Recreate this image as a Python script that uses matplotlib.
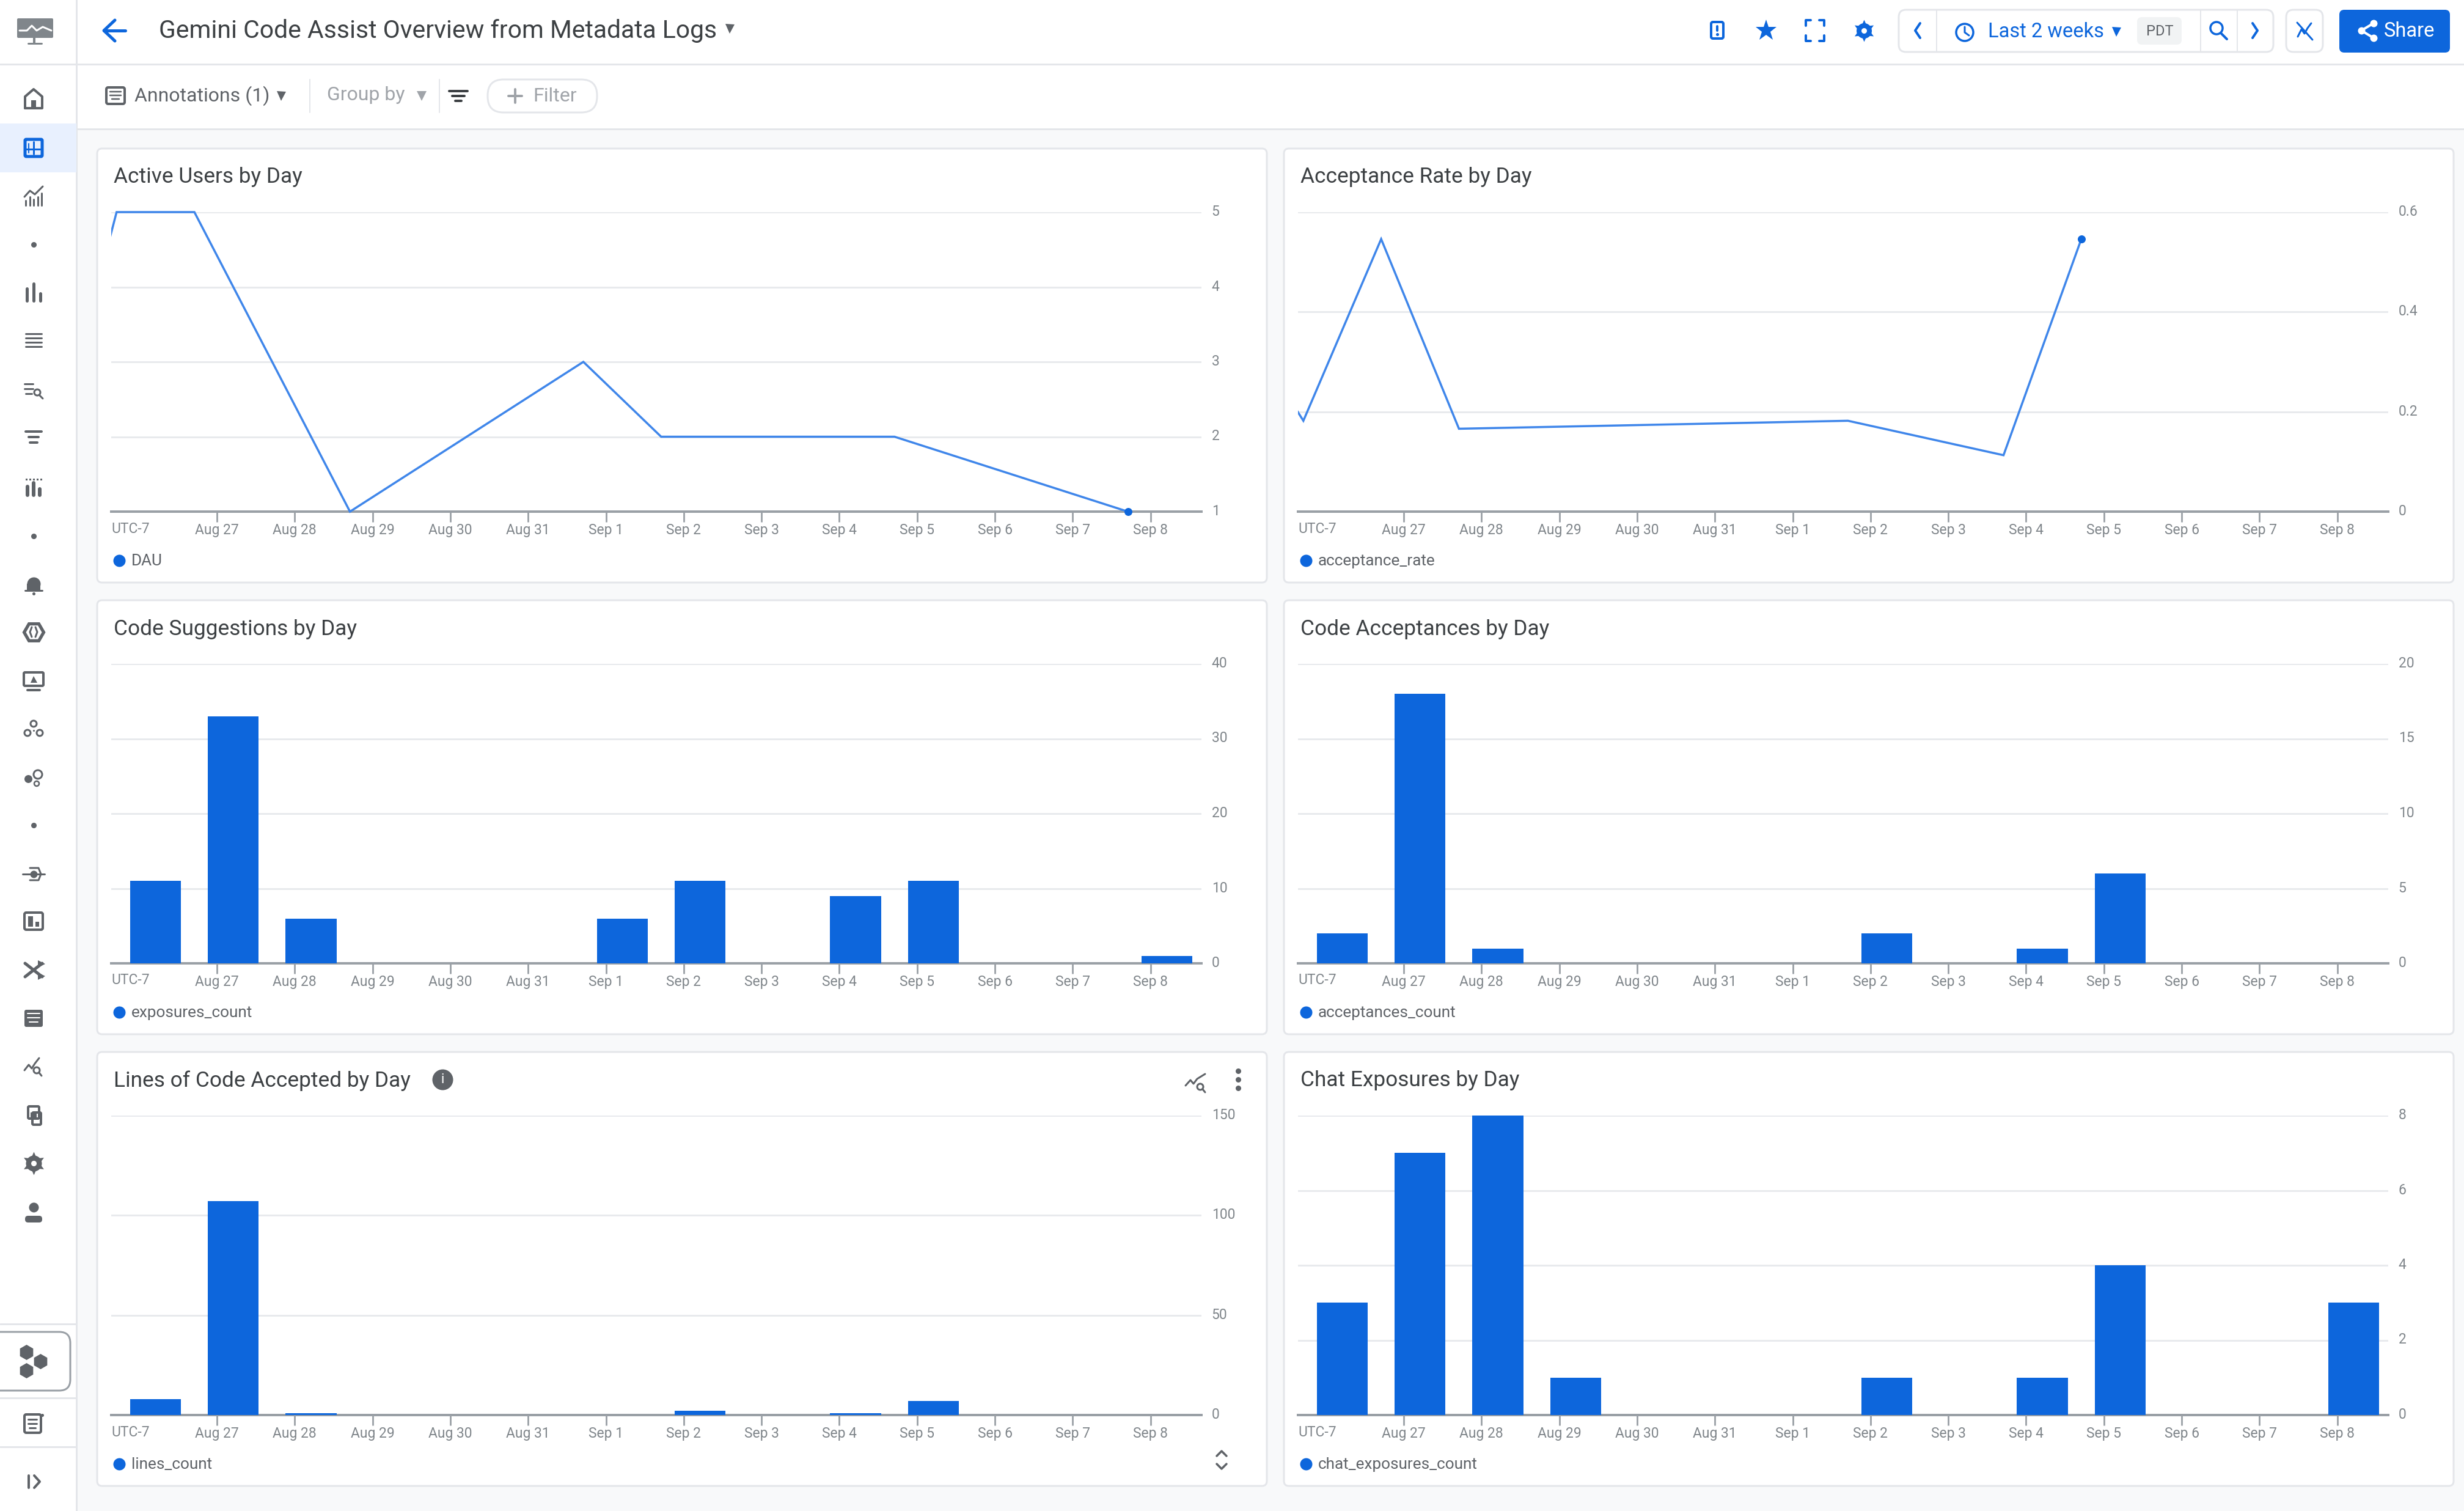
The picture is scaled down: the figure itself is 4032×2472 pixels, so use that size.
#!/usr/bin/env python3
"""Gemini Code Assist dashboard: six daily panels inside the console chrome."""

import matplotlib
matplotlib.use('Agg')
import matplotlib.pyplot as plt
from matplotlib.patches import Circle, FancyBboxPatch, Rectangle
from matplotlib.transforms import ScaledTranslation

plt.rcParams['font.family'] = ['Roboto', 'DejaVu Sans']

# day offsets from Aug 27, tick labels
tick_days = list(range(13))
tick_labels = ['Aug 27', 'Aug 28', 'Aug 29', 'Aug 30', 'Aug 31', 'Sep 1', 'Sep 2',
               'Sep 3', 'Sep 4', 'Sep 5', 'Sep 6', 'Sep 7', 'Sep 8']

# line panels
dau_days = [-2.29, -1.29, -0.29, 1.71, 4.71, 5.71, 8.71, 11.71]
dau_values = [1, 5, 5, 1, 3, 2, 2, 1]
rate_days = [-2.29, -1.29, -0.29, 0.71, 5.71, 7.71, 8.71]
rate_values = [0.43, 0.182, 0.546, 0.166, 0.182, 0.113, 0.546]

# bar panels
exposure_days = [-0.79, 0.21, 1.21, 5.21, 6.21, 8.21, 9.21, 12.21]
exposure_values = [11, 33, 6, 6, 11, 9, 11, 1]
accept_days = [-0.79, 0.21, 1.21, 6.21, 8.21, 9.21]
accept_values = [2, 18, 1, 2, 1, 6]
lines_days = [-0.79, 0.21, 1.21, 6.21, 8.21, 9.21]
lines_values = [8, 107, 1, 2, 1, 7]
chat_days = [-0.79, 0.21, 1.21, 2.21, 6.21, 8.21, 9.21, 12.21]
chat_values = [3, 7, 8, 1, 1, 1, 4, 3]

W, H = 4032, 2472
BLUE = '#0d66dc'
LINE_BLUE = '#3f86ea'
GREY = '#5f6368'
GRID = '#e8eaed'
BORDER = '#e4e6ea'
AXIS = '#9aa0a6'
TICK_TEXT = '#80868b'
TITLE_TEXT = '#3c4043'
PX = 0.72  # points per pixel at dpi=100

fig = plt.figure(figsize=(W / 100, H / 100), dpi=100, facecolor='#f8f9fa')

# overlay in pixel coordinates for the console chrome
ui = fig.add_axes([0, 0, 1, 1], zorder=0)
ui.set_xlim(0, W)
ui.set_ylim(H, 0)
ui.axis('off')


def rect(x0, y0, x1, y1, fc='white', ec='none', lw=0, z=1):
    ui.add_patch(Rectangle((x0, y0), x1 - x0, y1 - y0, fc=fc, ec=ec, lw=lw * PX, zorder=z))


def rrect(x0, y0, x1, y1, r=8, fc='white', ec='none', lw=0, z=2):
    ui.add_patch(FancyBboxPatch((x0 + r, y0 + r), x1 - x0 - 2 * r, y1 - y0 - 2 * r,
                                boxstyle=f'round,pad={r},rounding_size={r}',
                                fc=fc, ec=ec, lw=lw * PX, zorder=z))


def stroke(xs, ys, color=GREY, lw=4, z=3):
    ui.plot(xs, ys, color=color, lw=lw * PX, solid_capstyle='round',
            solid_joinstyle='round', zorder=z)


def mark(x, y, marker, size, color=GREY, z=3, **kw):
    ui.plot([x], [y], marker=marker, ms=size * PX, color=color, mew=0,
            ls='none', zorder=z, **kw)


def ring(x, y, r, color=GREY, lw=4, fc='none', z=3):
    ui.add_patch(Circle((x, y), r, fc=fc, ec=color, lw=lw * PX, zorder=z))


def caret(x, y, color=GREY, s=16):
    mark(x, y, 'v', s, color)


def label(x, y, s, size, color=TITLE_TEXT, ha='left', va='center'):
    ui.text(x, y, s, fontsize=size, color=color, ha=ha, va=va, zorder=4)


def hbars(x, y, widths, gap, lw=5, color=GREY):
    for i, w in enumerate(widths):
        stroke([x - w / 2, x + w / 2], [y + i * gap] * 2, color, lw)


def draw_chrome():
    # header, toolbar and sidebar backgrounds
    rect(0, 0, W, 211, z=1)
    rect(0, 0, 125, H, z=1)
    stroke([0, W], [105, 105], BORDER, 3, z=2)
    stroke([125, W], [211, 211], BORDER, 3, z=2)
    stroke([125, 125], [0, H], BORDER, 3, z=2)
    rect(0, 202, 125, 282, fc='#e8f0fe', z=2)

    # header left
    stroke([170, 205], [50, 50], BLUE, 5)
    stroke([188, 170, 188], [33, 50, 67], BLUE, 5)
    label(260, 50, 'Gemini Code Assist Overview from Metadata Logs', 29.4, '#3c4043')
    caret(1194, 47, GREY, 15)

    # header right: icons
    rrect(2800, 36, 2820, 63, r=3, fc='none', ec=BLUE, lw=4)
    stroke([2810, 2810], [43, 50], BLUE, 4)
    mark(2810, 56, 'o', 5, BLUE)
    mark(2890, 50, '*', 36, BLUE)
    for sx in (-1, 1):
        for sy in (-1, 1):
            stroke([2970 + sx * 15, 2970 + sx * 15, 2970 + sx * 7],
                   [50 + sy * 8, 50 + sy * 17, 50 + sy * 17], BLUE, 4)
    mark(3050, 50, (6, 1, 0), 36, BLUE)
    mark(3050, 50, 'o', 25, BLUE)
    mark(3050, 50, 'o', 9, 'white')

    # time range group
    rrect(3107, 16, 3720, 85, r=12, ec=BORDER, lw=3)
    for x in (3169, 3601, 3661):
        stroke([x, x], [16, 85], BORDER, 2)
    stroke([3142, 3134, 3142], [38, 50, 62], BLUE, 4)
    ring(3215, 53, 14, BLUE, 3.5)
    stroke([3215, 3215, 3222], [44, 53, 58], BLUE, 3)
    label(3253, 52, 'Last 2 weeks', 23.5, BLUE)
    caret(3463, 52, BLUE, 15)
    rrect(3497, 28, 3570, 73, r=8, fc='#f1f3f4')
    label(3534, 51, 'PDT', 17, GREY, ha='center')
    ring(3627, 46, 10, BLUE, 3.5)
    stroke([3634, 3644], [54, 64], BLUE, 4)
    stroke([3686, 3694, 3686], [38, 50, 62], BLUE, 4)
    rrect(3741, 16, 3801, 85, r=12, ec=BORDER, lw=3)
    stroke([3760, 3766, 3771, 3776, 3782], [60, 48, 55, 46, 38], BLUE, 3)
    stroke([3759, 3784], [37, 65], BLUE, 3)

    rrect(3828, 16, 4009, 86, r=8, fc=BLUE)
    stroke([3884, 3864, 3884], [38, 50, 62], 'white', 4, z=4)
    for x, y in ((3884, 38), (3864, 50), (3884, 62)):
        mark(x, y, 'o', 12, 'white', z=4)
    label(3901, 51, 'Share', 23.5, 'white')

    # toolbar
    rrect(174, 143, 204, 170, r=3, fc='none', ec=GREY, lw=4)
    hbars(189, 150, [18, 18, 12], 6, 2.5)
    label(220, 157, 'Annotations (1)', 23, GREY)
    caret(460, 157, GREY, 15)
    stroke([507, 507], [130, 184], BORDER, 2)
    label(535, 156, 'Group by', 23, '#a0a4a9')
    caret(690, 157, '#a0a4a9', 16)
    stroke([719, 719], [130, 184], BORDER, 2)
    hbars(750, 149, [30, 20, 10], 8, 4, '#3c4043')
    rrect(798, 130, 977, 184, r=26, ec=BORDER, lw=3)
    stroke([832, 854], [157, 157], '#a0a4a9', 4)
    stroke([843, 843], [146, 168], '#a0a4a9', 4)
    label(872, 158, 'Filter', 23, '#a0a4a9')


def draw_sidebar():
    x = 55
    # product logo
    rrect(28, 30, 87, 62, r=2, fc='#80868b')
    stroke([32, 44, 52, 60, 70, 84], [50, 50, 42, 50, 44, 50], 'white', 3)
    stroke([56, 56], [62, 70], '#80868b', 4)
    stroke([46, 68], [71, 71], '#80868b', 3)

    # home
    stroke([x - 14, x - 14, x, x + 14, x + 14, x - 14], [177, 158, 146, 158, 177, 177], GREY, 4)
    rect(x - 4, 164, x + 4, 177, fc=GREY, z=3)
    # dashboards (selected)
    rrect(x - 14, 228, x + 14, 256, r=2, fc='none', ec=BLUE, lw=5)
    stroke([x - 8, x - 8], [235, 250], BLUE, 2)
    stroke([x, x], [232, 252], BLUE, 3)
    stroke([x - 12, x + 12], [244, 244], BLUE, 3)
    # metrics chart
    for i, h in enumerate([8, 14, 10, 14, 20]):
        stroke([x - 13 + i * 6.5] * 2, [336 - h, 336], GREY, 3)
    stroke([x - 15, x - 6, x + 2, x + 15], [322, 312, 318, 305], GREY, 3)
    mark(x, 400, 'o', 9)
    # bars
    for i, top in enumerate((469, 461, 477)):
        stroke([x - 11 + i * 11] * 2, [top + 3, 492], GREY, 5)
    hbars(x, 546, [26, 26, 26, 26], 7, 3)
    hbars(x - 8, 628, [14, 14, 10], 8, 3)
    ring(x + 6, 642, 5, GREY, 3)
    stroke([x + 10, x + 15], [647, 652], GREY, 3)
    hbars(x, 706, [26, 16, 12], 9, 4)
    # tiles with dots above
    for i in range(5):
        mark(x - 12 + i * 6, 784, 's', 3)
    for i, top in enumerate((796, 790, 800)):
        stroke([x - 10 + i * 10] * 2, [top, 810], GREY, 6)
    mark(x, 877, 'o', 9)
    # bell
    mark(x, 955, 'o', 22)
    rect(x - 11, 955, x + 11, 966, fc=GREY, z=3)
    stroke([x - 14, x + 14], [966, 966], GREY, 3)
    mark(x, 971, 'o', 5)
    # hexagon badge
    mark(x, 1034, 'H', 38)
    mark(x, 1034, 'H', 26, 'white')
    stroke([x - 3, x - 6, x - 3], [1026, 1034, 1042], GREY, 3)
    stroke([x + 3, x + 6, x + 3], [1026, 1034, 1042], GREY, 3)
    # monitor
    rrect(x - 16, 1100, x + 16, 1122, r=2, fc='none', ec=GREY, lw=4)
    mark(x, 1111, '^', 11)
    stroke([x - 10, x + 10], [1129, 1129], GREY, 4)
    # nodes
    for dx, dy in ((0, -9), (-10, 6), (10, 6)):
        ring(x + dx, 1193 + dy, 5, GREY, 3)
    mark(x, 1195, 'o', 3)
    # bubbles
    mark(x - 9, 1274, 'o', 13)
    ring(x + 7, 1267, 7, GREY, 3)
    ring(x + 5, 1282, 4, GREY, 2.5)
    mark(x, 1350, 'o', 9)
    # target with arrow
    mark(x, 1430, 'o', 12)
    stroke([x - 18, x + 18], [1430, 1430], GREY, 3)
    stroke([x - 6, x + 8, x + 12, x + 8, x - 6], [1420, 1420, 1430, 1440, 1440], GREY, 3)
    # board
    rrect(x - 15, 1493, x + 15, 1521, r=3, fc='none', ec=GREY, lw=4)
    rect(x - 9, 1499, x - 1, 1516, fc=GREY, z=3)
    rect(x + 3, 1508, x + 9, 1516, fc=GREY, z=3)
    # shuffle
    stroke([x - 14, x + 14], [1576, 1598], GREY, 5)
    stroke([x - 14, x + 14], [1598, 1576], GREY, 5)
    mark(x + 13, 1577, '>', 12)
    mark(x + 13, 1597, '>', 12)
    # text box
    rrect(x - 15, 1652, x + 15, 1680, r=3, fc=GREY)
    hbars(x, 1658, [20, 20, 14], 7, 2, 'white')
    # trend search
    stroke([x - 15, x - 8, x - 3, x + 2, x + 9], [1751, 1742, 1748, 1740, 1731], GREY, 3)
    ring(x + 5, 1751, 5, GREY, 3)
    stroke([x + 9, x + 13], [1755, 1760], GREY, 3)
    # copies
    rrect(x - 9, 1810, x + 9, 1830, r=2, fc='none', ec=GREY, lw=4)
    rrect(x - 2, 1820, x + 12, 1840, r=2, fc='none', ec=GREY, lw=4)
    rect(x - 5, 1820, x + 5, 1830, fc=GREY, z=3)
    # gear
    mark(x, 1903, (6, 1, 0), 38)
    mark(x, 1903, 'o', 26)
    mark(x, 1903, 'o', 9, 'white')
    # person
    mark(x, 1975, 'o', 16)
    rrect(x - 14, 1989, x + 14, 2000, r=5, fc=GREY, z=3)

    # hexagon button
    stroke([0, 125], [2166, 2166], BORDER, 3, z=2)
    stroke([0, 125], [2287, 2287], BORDER, 3, z=2)
    stroke([0, 125], [2367, 2367], BORDER, 3, z=2)
    rrect(-20, 2179, 115, 2275, r=18, ec=AXIS, lw=3)
    for dx, dy in ((-12, -15), (-12, 15), (11, 0)):
        mark(55 + dx, 2227 + dy, 'h', 25)
    # note with sparkle
    rrect(x - 15, 2314, x + 12, 2344, r=3, fc='none', ec=GREY, lw=4)
    hbars(x - 2, 2322, [14, 14, 10], 7, 3)
    mark(x + 14, 2315, 'o', 5)
    # expand
    stroke([x - 8, x - 8], [2414, 2434], GREY, 4)
    stroke([x + 1, x + 10, x + 1], [2414, 2424, 2434], GREY, 4)


def draw_panel(col, row, title, series_name, ymax, yticks, ytick_labels, ymin=0):
    """White card with its title, legend and a chart axes on top; returns the axes."""
    dx = col * 1942
    card_top = [243, 982, 1721][row]
    base = [837, 1576, 2315][row]
    rrect(159 + dx, card_top, 2073 + dx, card_top + 710, r=8, ec=BORDER, lw=3, z=2)
    label(186 + dx, card_top + 47, title, 25.4, TITLE_TEXT)
    mark(195 + dx, base + 80, 'o', 20, BLUE)
    label(215 + dx, base + 81, series_name, 18.8, GREY)

    ax = fig.add_axes([(182 + dx) / W, 1 - base / H, 1784 / W, 490 / H], zorder=2)
    ax.patch.set_alpha(0)
    ax.set_xlim(-1.359, 12.655)
    ax.set_ylim(ymin, ymax)
    for side in ('top', 'left', 'right'):
        ax.spines[side].set_visible(False)
    ax.spines['bottom'].set_color(AXIS)
    ax.spines['bottom'].set_linewidth(4 * PX)
    ax.set_axisbelow(True)
    ax.yaxis.tick_right()
    ax.set_yticks(yticks)
    ax.set_yticklabels(ytick_labels)
    ax.tick_params(axis='y', length=0, pad=12, labelsize=16.5, labelcolor=TICK_TEXT)
    up = ScaledTranslation(0, 3 / 100, fig.dpi_scale_trans)
    for tick_label in ax.get_yticklabels():
        tick_label.set_transform(tick_label.get_transform() + up)
    ax.set_xticks(tick_days)
    ax.set_xticklabels(tick_labels)
    ax.tick_params(axis='x', length=12, width=2, color=AXIS, pad=2,
                   labelsize=16.5, labelcolor=TICK_TEXT)
    ax.grid(axis='y', color=GRID, lw=3 * PX)
    ax.annotate('UTC-7', xy=(0, 0), xycoords='axes fraction', xytext=(0, -28 * PX),
                textcoords='offset points', fontsize=16.5, color=TICK_TEXT,
                ha='left', va='center')
    return ax


def draw_line(ax, days, values):
    line, = ax.plot(days, values, color=LINE_BLUE, lw=3.5 * PX, solid_joinstyle='miter', zorder=3)
    line.set_clip_path(Rectangle((0, -0.05), 1, 1.1, transform=ax.transAxes))
    ax.plot(days[-1], values[-1], 'o', color=BLUE, ms=13 * PX, mew=0, zorder=4, clip_on=False)


def draw_bars(ax, days, values):
    ax.bar(days, values, width=0.655, color=BLUE, zorder=3)


draw_chrome()
draw_sidebar()

ax = draw_panel(0, 0, 'Active Users by Day', 'DAU', 5, [1, 2, 3, 4, 5], ['1', '2', '3', '4', '5'], ymin=1)
draw_line(ax, dau_days, dau_values)

ax = draw_panel(1, 0, 'Acceptance Rate by Day', 'acceptance_rate', 0.6,
                [0, 0.2, 0.4, 0.6], ['0', '0.2', '0.4', '0.6'])
draw_line(ax, rate_days, rate_values)

ax = draw_panel(0, 1, 'Code Suggestions by Day', 'exposures_count', 40,
                [0, 10, 20, 30, 40], ['0', '10', '20', '30', '40'])
draw_bars(ax, exposure_days, exposure_values)

ax = draw_panel(1, 1, 'Code Acceptances by Day', 'acceptances_count', 20,
                [0, 5, 10, 15, 20], ['0', '5', '10', '15', '20'])
draw_bars(ax, accept_days, accept_values)

ax = draw_panel(0, 2, 'Lines of Code Accepted by Day', 'lines_count', 150,
                [0, 50, 100, 150], ['0', '50', '100', '150'])
draw_bars(ax, lines_days, lines_values)

ax = draw_panel(1, 2, 'Chat Exposures by Day', 'chat_exposures_count', 8,
                [0, 2, 4, 6, 8], ['0', '2', '4', '6', '8'])
draw_bars(ax, chat_days, chat_values)

# extra controls on the lines panel
mark(724, 1766, 'o', 34, GREY, z=3)
label(724, 1766, 'i', 16, 'white', ha='center')
stroke([1940, 1948, 1953, 1959, 1972], [1776, 1767, 1773, 1765, 1757], '#5f6368', 3)
ring(1964, 1778, 5, GREY, 3)
stroke([1968, 1972], [1782, 1787], GREY, 3)
for y in (1752, 1766, 1780):
    mark(2026, y, 'o', 9, GREY)
stroke([1991, 1999, 2007], [2382, 2374, 2382], GREY, 3.5)
stroke([1991, 1999, 2007], [2395, 2403, 2395], GREY, 3.5)

fig.savefig('out.png', dpi=100, facecolor=fig.get_facecolor())
